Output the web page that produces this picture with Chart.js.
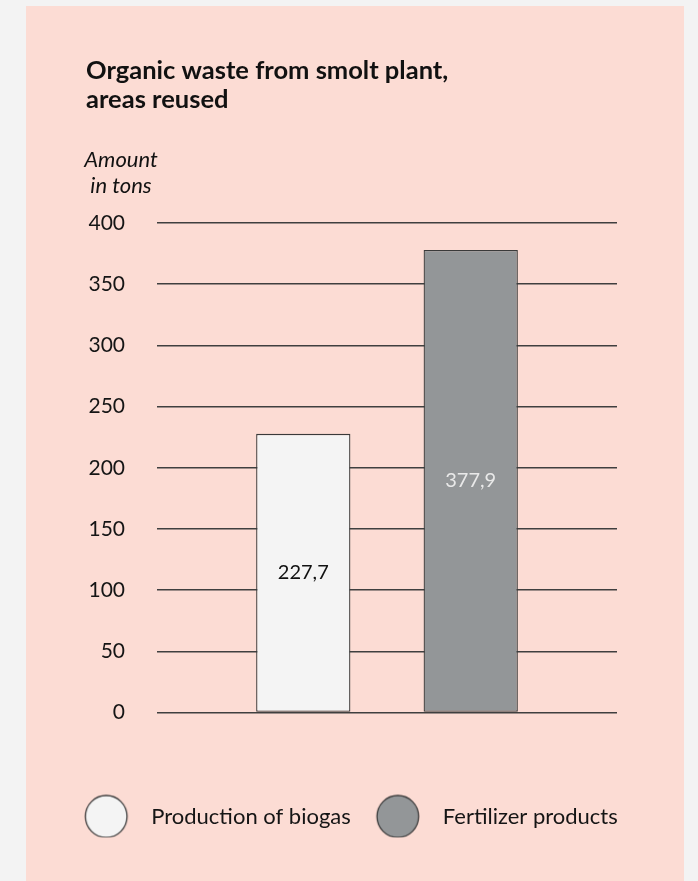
<!DOCTYPE html>
<html>
<head>
<meta charset="utf-8">
<script src="https://cdn.jsdelivr.net/npm/chart.js@4"></script>
<style>
  body { margin: 0; background: #f3f3f3; }
  #panel { position: absolute; left: 26px; top: 6px; width: 658px; height: 875px; background: #fcdcd4; }
</style>
</head>
<body>
<div id="panel"><canvas id="wasteChart" width="658" height="875"></canvas></div>
<script>
const titleLines = ["Organic waste from smolt plant,", "areas reused"];
const axisCaption = ["Amount", "in tons"];
const seriesNames = ["Production of biogas", "Fertilizer products"];
const seriesValues = [227.7, 377.9];
const seriesColors = ["#f4f4f4", "#939698"];
const valueLabelColors = ["#111111", "#e9e9e9"];
const yTicks = [0, 50, 100, 150, 200, 250, 300, 350, 400];

const FONT = "Lato";

// circle image used as legend marker
function makeDot(fill) {
  const c = document.createElement("canvas");
  c.width = 46;
  c.height = 46;
  const g = c.getContext("2d");
  g.beginPath();
  g.ellipse(23, 23, 20.8, 21, 0, 0, Math.PI * 2);
  g.fillStyle = fill;
  g.fill();
  g.lineWidth = 1.3;
  g.strokeStyle = "#3a3a3a";
  g.stroke();
  return c;
}

// heading + axis caption + numbers inside bars
const textPlugin = {
  id: "textPlugin",
  afterDraw(chart) {
    const ctx = chart.ctx;
    const area = chart.chartArea;
    ctx.save();
    ctx.fillStyle = "#111111";
    ctx.textBaseline = "alphabetic";
    ctx.textAlign = "left";
    ctx.font = "bold 25.5px " + FONT;
    titleLines.forEach((line, i) => ctx.fillText(line, 60, 73 + i * 29));

    ctx.textAlign = "center";
    ctx.font = "italic 22px " + FONT;
    axisCaption.forEach((line, i) => ctx.fillText(line, area.left - 36, area.top - 56 + i * 26));

    ctx.font = "20px " + FONT;
    ctx.textBaseline = "middle";
    chart.data.datasets.forEach((ds, i) => {
      const bar = chart.getDatasetMeta(i).data[0];
      ctx.fillStyle = valueLabelColors[i];
      ctx.fillText(ds.data[0].toFixed(1).replace(".", ","), bar.x, (bar.y + bar.base) / 2);
    });
    ctx.restore();
  },
};

const datasets = seriesNames.map((name, i) => ({
  label: name,
  data: [seriesValues[i]],
  backgroundColor: seriesColors[i],
  borderColor: "#3a3a3a",
  borderWidth: 1.3,
  borderSkipped: false,
  categoryPercentage: 0.728,
  barPercentage: 0.563,
}));

new Chart(document.getElementById("wasteChart"), {
  type: "bar",
  data: { labels: [""], datasets: datasets },
  options: {
    responsive: false,
    animation: false,
    layout: { padding: { top: 217, left: 0, right: 20, bottom: 43.5 } },
    scales: {
      x: {
        grid: { display: false },
        border: { display: false },
        ticks: { display: false },
        afterFit(scale) {
          scale.height = 80;
        },
      },
      y: {
        min: 0,
        max: 400,
        afterBuildTicks(scale) {
          scale.ticks = yTicks.map((v) => ({ value: v }));
        },
        afterFit(scale) {
          scale.width = 131;
        },
        grid: { color: "#3f3f3f", lineWidth: 1.5, drawTicks: false },
        border: { display: false },
        ticks: { padding: 32, color: "#151515", font: { family: FONT, size: 21 } },
      },
      // empty axis on the right, only keeps the plot away from the edge
      yRight: {
        position: "right",
        min: 0,
        max: 400,
        grid: { display: false },
        border: { display: false },
        ticks: { display: false },
        afterFit(scale) {
          scale.width = 47;
        },
      },
    },
    plugins: {
      tooltip: { enabled: false },
      legend: {
        position: "bottom",
        labels: {
          usePointStyle: true,
          pointStyleWidth: 68,
          padding: 13,
          color: "#151515",
          font: { family: FONT, size: 22 },
          generateLabels(chart) {
            return chart.data.datasets.map((ds, i) => ({
              text: ds.label,
              pointStyle: makeDot(seriesColors[i]),
              fillStyle: seriesColors[i],
              strokeStyle: "#3a3a3a",
              lineWidth: 0,
              hidden: false,
              datasetIndex: i,
              fontColor: "#151515",
            }));
          },
        },
      },
    },
  },
  plugins: [textPlugin],
});
</script>
</body>
</html>
